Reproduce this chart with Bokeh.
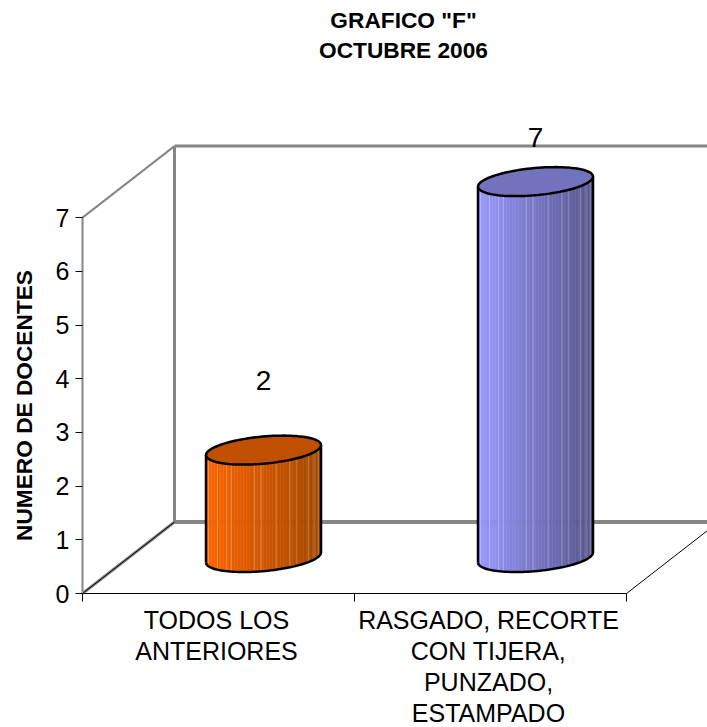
import numpy as np
from bokeh.plotting import figure
from bokeh.models import Range1d, LinearAxis, FixedTicker, Label
from bokeh.embed import file_html
from bokeh.resources import INLINE

categories = ["TODOS LOS\nANTERIORES", "RASGADO, RECORTE\nCON TIJERA,\nPUNZADO,\nESTAMPADO"]
values = [2, 7]
value_ticks = [0, 1, 2, 3, 4, 5, 6, 7]
title_lines = ['GRAFICO "F"', "OCTUBRE 2006"]
y_title = "NUMERO DE DOCENTES"
light_colors = [(255, 102, 0), (153, 153, 255)]
dark_colors = [(160, 72, 0), (85, 85, 140)]
top_colors = ["#C05000", "#7373BD"]
label_lifts = [70, 44.5]

FONT = "Liberation Sans"
W, H = 707, 727
X0, Y0 = 82, 593               # pixel position of the axes' origin
SX, SY = 272.0, 53.7           # pixels per category, pixels per value
DEPTH_X, DEPTH_Y = 92 / SX, 71.5 / SY
HALF_W = 57.5 / SX
SKEW = 5 / SY
HALF_T = 13.6 / SY
FRONT_Y = 36 / SY              # centre of cylinder base above axis base
BAR_SHIFT = -1 / SX
LABEL_SHIFT = -2 / SX

p = figure(width=W, height=H, output_backend="svg", toolbar_location=None,
           x_range=Range1d(-X0 / SX, (W - X0) / SX), y_range=Range1d(-(H - Y0) / SY, Y0 / SY),
           min_border_left=0, min_border_right=0, min_border_top=0, min_border_bottom=0,
           x_axis_type=None, y_axis_type=None, outline_line_color=None)
p.xgrid.visible = False
p.ygrid.visible = False

GRAY = "#868686"
top = max(values)
xmax = (W - X0) / SX
# walls and floor
p.line([DEPTH_X, DEPTH_X], [DEPTH_Y, top + DEPTH_Y], line_color=GRAY, line_width=3)
p.line([DEPTH_X, xmax], [top + DEPTH_Y] * 2, line_color=GRAY, line_width=3)
p.line([DEPTH_X, xmax], [DEPTH_Y] * 2, line_color=GRAY, line_width=4)
p.line([0, DEPTH_X], [top, top + DEPTH_Y], line_color=GRAY, line_width=2)
p.line([0, DEPTH_X], [0, DEPTH_Y], line_color=GRAY, line_width=3)
p.line([0, DEPTH_X], [0, DEPTH_Y], line_color="black", line_width=1)
p.line([len(values), len(values) + DEPTH_X], [0, DEPTH_Y], line_color="black", line_width=1)

light_offsets = [0.02, 0.1, 0.18, 0.22, 0.42, 0.48, 0.61, 0.73, 0.79, 0.89, 0.94, 0.975]


def ellipse(cx, cy, t):
    return (cx + HALF_W * np.cos(t), cy + SKEW * np.cos(t) + HALF_T * np.sin(t))


for i, v in enumerate(values):
    cx = i + 0.5 + DEPTH_X / 2 + BAR_SHIFT
    base = FRONT_Y
    ty = v + base
    n = 40
    cosv = np.linspace(-1, 1, n + 1)
    ts = np.pi + np.arccos(-cosv)
    xs, ys = [], []
    colors = []
    for k in range(n):
        xa, ya = ellipse(cx, base, ts[k]); xb, yb = ellipse(cx, base, ts[k + 1])
        xc, yc = ellipse(cx, ty, ts[k + 1]); xd, yd = ellipse(cx, ty, ts[k])
        xs.append([xa, xb, xc, xd]); ys.append([ya, yb, yc, yd])
        f = (k + 0.5) / n
        c = tuple(int(round(l + (d - l) * f)) for l, d in zip(light_colors[i], dark_colors[i]))
        colors.append("#%02x%02x%02x" % c)
    p.patches(xs, ys, fill_color=colors, line_color=colors, line_width=0.5)
    for o in light_offsets:
        t = np.pi + np.arccos(1 - 2 * o)
        xa, ya = ellipse(cx, base, t); xb, yb = ellipse(cx, ty, t)
        p.line([xa, xb], [ya, yb], line_color="white", line_alpha=0.28, line_width=1)
    t = np.linspace(np.pi, 2 * np.pi, 60)
    xb, yb = ellipse(cx, base, t)
    p.line(list(xb) + [cx + HALF_W], list(yb) + [ty + SKEW], line_color="black", line_width=2.5)
    p.line([cx - HALF_W, cx - HALF_W], [base - SKEW, ty - SKEW], line_color="black", line_width=2.5)
    t = np.linspace(0, 2 * np.pi, 100)
    xe, ye = ellipse(cx, ty, t)
    p.patch(xe, ye, fill_color=top_colors[i], line_color="black", line_width=2.5)
    p.add_layout(Label(x=cx, y=ty, y_offset=label_lifts[i], text=str(v), text_font=FONT,
                       text_font_size="28px", text_align="center", text_baseline="middle",
                       text_color="black"))

ya = LinearAxis(ticker=FixedTicker(ticks=value_ticks), bounds=(0, top), fixed_location=0,
                axis_line_color=GRAY, axis_line_width=2, major_tick_line_color="black",
                major_tick_in=0, major_tick_out=7, minor_tick_line_color=None,
                major_label_text_font=FONT, major_label_text_font_size="25px",
                major_label_text_color="black", major_label_standoff=6)
p.add_layout(ya, "left")
xa = LinearAxis(ticker=FixedTicker(ticks=[k + 0.5 + LABEL_SHIFT for k in range(len(values))],
                                   minor_ticks=list(range(len(values) + 1))),
                bounds=(0, len(values)), fixed_location=0,
                major_label_overrides={k + 0.5 + LABEL_SHIFT: c for k, c in enumerate(categories)},
                axis_line_color="black", axis_line_width=1,
                major_tick_line_color=None, major_tick_out=0, major_tick_in=0,
                minor_tick_line_color="black", minor_tick_in=0, minor_tick_out=8,
                major_label_text_font=FONT, major_label_text_font_size="25px",
                major_label_text_color="black", major_label_text_line_height=1.11,
                major_label_standoff=4)
p.add_layout(xa, "below")

for line, sy in zip(title_lines, [708, 678]):
    p.add_layout(Label(x=403, y=sy, x_units="screen", y_units="screen", text=line, text_font=FONT,
                       text_font_size="22.7px", text_font_style="bold", text_align="center",
                       text_baseline="middle", text_color="black"))
p.add_layout(Label(x=23, y=322, x_units="screen", y_units="screen", text=y_title, angle=np.pi / 2,
                   text_font=FONT, text_font_size="22.7px", text_font_style="bold",
                   text_align="center", text_baseline="middle", text_color="black"))

open("out.html", "w").write(file_html(p, INLINE))
